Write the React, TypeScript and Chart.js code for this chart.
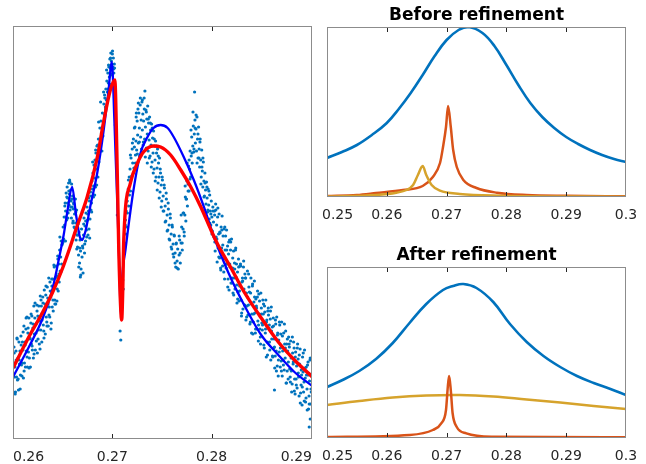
import { useEffect, useRef } from "react";
import { Chart, registerables } from "chart.js";
Chart.register(...registerables);

// ---------- Left panel: measured spectrum (x, intensity) ----------
const scatterLeftWing: [number, number][] = [
  [0.26000,77],[0.26005,47],[0.26010,92],[0.26015,62],[0.26020,72],[0.26025,47],[0.26030,88],[0.26035,62],
  [0.26040,101],[0.26045,59],[0.26050,81],[0.26055,49],[0.26060,97],[0.26065,75],[0.26070,88],[0.26075,64],
  [0.26080,103],[0.26085,74],[0.26090,63],[0.26095,97],[0.26100,89],[0.26105,61],[0.26110,113],[0.26115,76],
  [0.26120,97],[0.26125,72],[0.26130,110],[0.26135,88],[0.26140,122],[0.26145,72],[0.26150,106],[0.26155,87],
  [0.26160,121],[0.26165,81],[0.26170,101],[0.26175,72],[0.26180,116],[0.26185,95],[0.26190,123],[0.26195,89],
  [0.26200,111],[0.26205,81],[0.26210,133],[0.26215,105],[0.26220,121],[0.26225,89],[0.26230,115],[0.26235,98],
  [0.26240,134],[0.26245,86],[0.26250,123],[0.26255,109],[0.26260,133],[0.26265,95],[0.26270,118],[0.26275,143],
  [0.26280,109],[0.26285,133],[0.26290,97],[0.26295,126],[0.26300,142],[0.26305,114],[0.26310,108],[0.26315,149],
  [0.26320,129],[0.26325,105],[0.26330,144],[0.26335,122],[0.26340,117],[0.26345,152],[0.26350,141],[0.26355,113],
  [0.26360,161],[0.26365,132],[0.26370,122],[0.26375,148],[0.26380,142],[0.26385,116],[0.26390,160],[0.26395,132],
  [0.26400,160],[0.26405,128],[0.26410,150],[0.26415,172],[0.26420,139],[0.26425,161],[0.26430,135],[0.26435,173],
  [0.26440,163],[0.26445,150],[0.26450,183],[0.26455,148],[0.26460,175],[0.26465,157],[0.26470,189],[0.26475,168],
  [0.26480,182],[0.26485,198],[0.26490,175],[0.26495,195],[0.26500,196],[0.26505,212],
  [0.26002,62],[0.26012,86],[0.26022,45],[0.26032,79],[0.26042,100],[0.26052,60],[0.26062,79],[0.26072,50],
  [0.26082,94],[0.26092,76],[0.26102,107],[0.26112,68],[0.26122,94],[0.26132,121],[0.26142,82],[0.26152,111],
  [0.26162,71],[0.26172,100],[0.26182,125],[0.26192,93],[0.26202,115],[0.26212,85],[0.26222,136],[0.26232,106],
  [0.26242,128],[0.26252,100],[0.26262,121],[0.26272,90],[0.26282,139],[0.26292,119],[0.26302,136],[0.26312,101],
  [0.26322,135],[0.26332,153],[0.26342,113],[0.26352,135],[0.26362,124],[0.26372,157],[0.26382,110],[0.26392,153],
  [0.26402,139],[0.26412,174],[0.26422,135],[0.26432,162],[0.26442,138],[0.26452,180],[0.26462,165],[0.26472,202],
  [0.26482,167],[0.26492,194],
];
const scatterSidePeak: [number, number][] = [
  [0.26510,200],[0.26515,222],[0.26520,214],[0.26525,236],[0.26528,198],[0.26530,228],[0.26535,246],
  [0.26540,219],[0.26545,252],[0.26548,236],[0.26550,241],[0.26555,226],[0.26560,256],[0.26565,234],[0.26568,245],
  [0.26570,259],[0.26575,229],[0.26580,249],[0.26585,238],[0.26588,221],[0.26590,255],[0.26595,232],
  [0.26600,243],[0.26605,218],[0.26608,230],[0.26610,236],[0.26615,212],[0.26620,225],[0.26625,206],[0.26628,240],
  [0.26630,216],[0.26635,199],[0.26640,229],[0.26645,204],[0.26650,192],[0.26655,215],[0.26660,184],[0.26665,207],
  [0.26670,176],[0.26675,199],[0.26678,162],[0.26680,188],[0.26685,170],[0.26690,210],[0.26695,182],[0.26698,228],
  [0.26700,193],[0.26705,166],[0.26710,204],[0.26715,221],[0.26720,186],[0.26725,213],[0.26730,198],[0.26735,226],
  [0.26740,209],[0.26745,232],[0.26750,219],[0.26755,204],
  [0.26512,198],[0.26522,233],[0.26532,222],[0.26542,242],[0.26552,221],[0.26562,248],[0.26572,257],[0.26582,232],
  [0.26592,240],[0.26602,216],[0.26612,235],[0.26622,211],[0.26632,227],[0.26642,190],[0.26652,204],[0.26662,172],
  [0.26672,191],[0.26682,164],[0.26692,200],[0.26702,191],[0.26712,215],[0.26722,195],[0.26732,218],[0.26742,202],
  [0.26752,225],
];
const scatterMainPeak: [number, number][] = [
  [0.26760,228],[0.26765,210],[0.26770,238],[0.26775,220],[0.26780,247],[0.26785,229],[0.26790,236],[0.26795,258],
  [0.26800,250],[0.26805,266],[0.26810,242],[0.26815,274],[0.26820,261],[0.26825,279],[0.26830,252],[0.26835,286],
  [0.26840,270],[0.26845,293],[0.26850,281],[0.26855,262],[0.26860,300],[0.26865,277],[0.26870,289],[0.26875,311],
  [0.26880,297],[0.26885,318],[0.26890,306],[0.26895,288],[0.26900,326],[0.26905,303],[0.26910,314],[0.26915,335],
  [0.26920,324],[0.26925,341],[0.26930,332],[0.26935,350],[0.26940,339],[0.26945,358],[0.26950,347],[0.26955,366],
  [0.26960,356],[0.26965,372],[0.26970,362],[0.26975,380],[0.26980,371],[0.26985,386],[0.26990,378],[0.26995,364],
  [0.27000,385],[0.27005,372],[0.27010,381],[0.27015,366],[0.27020,375],[0.27025,352],
  [0.26762,241],[0.26772,201],[0.26782,243],[0.26792,227],[0.26802,277],[0.26812,253],[0.26822,244],[0.26832,289],
  [0.26842,254],[0.26852,294],[0.26862,317],[0.26872,289],[0.26882,337],[0.26892,311],[0.26902,303],[0.26912,347],
  [0.26922,344],[0.26932,330],[0.26942,369],[0.26952,350],[0.26962,374],[0.26972,355],[0.26982,381],[0.26992,365],
  [0.27002,388],[0.27012,370],[0.27022,371],
  [0.27030,314],[0.27050,224],[0.27078,108],[0.27085,99],[0.27095,132],[0.27100,145],[0.27105,159],[0.27110,150],
];
const scatterMiddleHump: [number, number][] = [
  [0.27125,196],[0.27130,214],[0.27135,205],[0.27140,228],[0.27145,212],[0.27150,238],
  [0.27160,250],[0.27165,233],[0.27170,262],[0.27178,270],[0.27183,248],[0.27188,281],
  [0.27195,263],[0.27200,290],[0.27205,276],[0.27212,300],[0.27217,271],[0.27222,292],
  [0.27228,312],[0.27233,284],[0.27238,298],[0.27240,322],[0.27245,289],[0.27250,318],[0.27255,304],[0.27258,330],
  [0.27262,296],[0.27267,326],[0.27272,311],[0.27275,283],[0.27280,334],[0.27285,302],[0.27290,319],[0.27293,290],
  [0.27298,337],[0.27302,309],[0.27307,325],[0.27310,294],[0.27315,318],[0.27320,341],[0.27325,300],[0.27328,348],
  [0.27333,312],[0.27338,329],[0.27342,291],[0.27347,320],[0.27352,305],[0.27356,333],[0.27360,288],[0.27365,316],
  [0.27370,299],[0.27375,322],[0.27380,283],[0.27385,309],[0.27390,294],[0.27395,315],[0.27400,277],[0.27405,301],
  [0.27410,286],[0.27415,308],[0.27420,270],[0.27425,293],[0.27430,279],[0.27435,298],[0.27440,262],[0.27445,286],
  [0.27450,271],[0.27455,290],[0.27460,256],[0.27465,276],[0.27470,262],[0.27475,281],[0.27480,247],[0.27485,266],
  [0.27492,254],[0.27498,238],[0.27504,259],[0.27512,243],[0.27518,228],[0.27524,251],
  [0.27532,233],[0.27538,218],[0.27544,240],[0.27552,224],[0.27558,209],[0.27564,230],
  [0.27572,214],[0.27578,199],[0.27584,221],[0.27592,205],[0.27598,190],[0.27604,212],
  [0.27612,195],[0.27618,182],[0.27624,203],[0.27632,186],[0.27638,172],[0.27644,196],
  [0.27652,178],[0.27658,190],[0.27664,170],
  [0.27122,212],[0.27132,219],[0.27142,238],[0.27152,226],[0.27162,259],[0.27172,244],[0.27182,284],[0.27192,261],
  [0.27202,296],[0.27212,266],[0.27222,311],[0.27232,276],[0.27242,326],[0.27252,285],[0.27262,336],[0.27272,297],
  [0.27282,341],[0.27292,284],[0.27302,339],[0.27312,297],[0.27322,330],[0.27332,282],[0.27342,327],[0.27352,276],
  [0.27362,320],[0.27372,281],[0.27382,316],[0.27392,272],[0.27402,311],[0.27412,266],[0.27422,300],[0.27432,258],
  [0.27442,293],[0.27452,249],[0.27462,283],[0.27472,241],[0.27482,270],[0.27492,232],[0.27502,262],[0.27512,228],
  [0.27522,254],[0.27532,217],[0.27542,246],[0.27552,208],[0.27562,236],[0.27572,200],[0.27582,225],[0.27592,192],
  [0.27602,214],[0.27612,185],[0.27622,204],[0.27632,176],[0.27642,195],[0.27652,171],
];
const scatterRightPeak: [number, number][] = [
  [0.27672,184],[0.27678,199],[0.27684,176],[0.27692,196],[0.27698,212],[0.27704,189],
  [0.27712,210],[0.27718,226],[0.27724,203],[0.27730,224],[0.27735,242],[0.27740,218],
  [0.27746,240],[0.27751,258],[0.27756,233],[0.27762,255],[0.27767,273],[0.27772,248],
  [0.27778,270],[0.27783,288],[0.27788,262],[0.27794,283],[0.27799,302],[0.27804,276],
  [0.27810,293],[0.27815,313],[0.27820,287],[0.27825,305],[0.27828,347],[0.27832,319],[0.27836,296],
  [0.27842,310],[0.27847,288],[0.27852,322],[0.27858,300],[0.27863,281],[0.27868,312],
  [0.27874,290],[0.27879,272],[0.27884,300],[0.27890,279],[0.27895,262],[0.27900,289],
  [0.27906,268],[0.27911,252],[0.27916,277],[0.27922,258],[0.27927,243],[0.27932,266],
  [0.27938,249],[0.27943,235],[0.27948,257],[0.27954,241],[0.27959,227],[0.27964,250],
  [0.27970,234],[0.27975,220],[0.27980,244],[0.27986,228],[0.27991,214],[0.27996,238],
  [0.28002,222],[0.28007,208],[0.28012,232],[0.28018,217],[0.28023,202],[0.28028,228],
  [0.27673,203],[0.27683,186],[0.27693,224],[0.27703,196],[0.27713,226],[0.27723,207],[0.27733,253],[0.27743,240],
  [0.27753,276],[0.27763,248],[0.27773,279],[0.27782,260],[0.27792,309],[0.27802,286],[0.27812,327],[0.27822,290],
  [0.27833,311],[0.27843,324],[0.27853,276],[0.27862,305],[0.27872,281],[0.27882,297],[0.27892,255],[0.27902,272],
  [0.27912,281],[0.27923,242],[0.27933,256],[0.27942,226],[0.27952,252],[0.27962,229],[0.27972,248],[0.27982,216],
  [0.27992,225],[0.28003,205],[0.28013,228],
];
const scatterRightWing: [number, number][] = [
  [0.28030,224],[0.28035,188],[0.28040,235],[0.28045,202],[0.28050,214],[0.28055,177],[0.28060,222],[0.28065,191],
  [0.28070,205],[0.28075,225],[0.28080,181],[0.28085,206],[0.28090,171],[0.28095,212],[0.28100,191],[0.28105,223],
  [0.28110,173],[0.28115,203],[0.28120,180],[0.28125,210],[0.28130,160],[0.28135,189],[0.28140,203],[0.28145,171],
  [0.28150,209],[0.28155,175],[0.28160,193],[0.28165,160],[0.28170,185],[0.28175,149],[0.28180,199],[0.28185,172],
  [0.28190,189],[0.28195,156],[0.28200,200],[0.28205,161],[0.28210,171],[0.28215,146],[0.28220,188],[0.28225,161],
  [0.28230,176],[0.28235,150],[0.28240,189],[0.28245,162],[0.28250,175],[0.28255,136],[0.28260,167],[0.28265,147],
  [0.28270,180],[0.28275,138],[0.28280,148],[0.28285,173],[0.28290,175],[0.28295,139],[0.28300,123],[0.28305,157],
  [0.28310,161],[0.28315,130],[0.28320,172],[0.28325,150],[0.28330,134],[0.28335,165],[0.28340,161],[0.28345,119],
  [0.28350,146],[0.28355,133],[0.28360,168],[0.28365,124],[0.28370,134],[0.28375,152],[0.28380,147],[0.28385,115],
  [0.28390,117],[0.28395,161],[0.28400,135],[0.28405,125],[0.28410,153],[0.28415,105],[0.28420,117],[0.28425,137],
  [0.28430,158],[0.28435,126],[0.28440,106],[0.28445,140],[0.28450,133],[0.28455,110],[0.28460,142],[0.28465,118],
  [0.28470,98],[0.28475,145],[0.28480,125],[0.28485,110],[0.28490,102],[0.28495,146],[0.28500,131],[0.28505,116],
  [0.28510,109],[0.28515,139],[0.28520,125],[0.28525,94],[0.28530,91],[0.28535,127],[0.28540,106],[0.28545,139],
  [0.28550,82],[0.28555,119],[0.28560,97],[0.28565,128],[0.28570,131],[0.28575,111],[0.28580,114],[0.28585,89],
  [0.28590,120],[0.28595,79],[0.28600,132],[0.28605,100],[0.28610,112],[0.28615,82],[0.28620,121],[0.28625,91],
  [0.28630,100],[0.28632,49],[0.28635,71],[0.28640,83],[0.28645,115],[0.28650,88],[0.28655,122],[0.28660,73],
  [0.28665,106],[0.28670,63],[0.28675,99],[0.28680,87],[0.28685,114],[0.28690,72],[0.28695,105],[0.28700,78],
  [0.28705,117],[0.28710,63],[0.28715,88],[0.28720,79],[0.28725,106],[0.28730,69],[0.28735,95],[0.28740,81],
  [0.28745,108],[0.28750,56],[0.28755,95],[0.28760,68],[0.28765,88],[0.28770,60],[0.28775,102],[0.28780,95],
  [0.28785,70],[0.28790,62],[0.28795,98],[0.28800,81],[0.28805,47],[0.28810,55],[0.28815,86],[0.28820,75],
  [0.28825,97],[0.28830,91],[0.28835,60],[0.28840,45],[0.28845,87],[0.28850,60],[0.28855,73],[0.28860,51],
  [0.28865,95],[0.28870,80],[0.28875,62],[0.28880,43],[0.28885,75],[0.28890,90],[0.28895,46],[0.28900,54],
  [0.28905,64],[0.28910,34],[0.28915,82],[0.28920,67],[0.28925,47],[0.28930,57],[0.28935,89],[0.28940,71],
  [0.28945,37],[0.28950,41],[0.28955,64],[0.28960,50],[0.28965,74],[0.28970,77],[0.28975,30],[0.28980,43],
  [0.28982,12],[0.28985,58],[0.28990,79],[0.28992,20],[0.28995,35],[0.29000,50],[0.29005,65],
  [0.28032,197],[0.28042,229],[0.28052,200],[0.28062,231],[0.28072,182],[0.28082,207],[0.28092,169],[0.28102,209],
  [0.28112,194],[0.28122,167],[0.28132,212],[0.28142,175],[0.28152,189],[0.28162,152],[0.28172,197],[0.28182,175],
  [0.28192,197],[0.28202,156],[0.28212,181],[0.28222,144],[0.28232,170],[0.28242,191],[0.28252,154],[0.28262,140],
  [0.28272,172],[0.28282,153],[0.28292,173],[0.28302,126],[0.28312,158],[0.28322,178],[0.28332,134],[0.28342,161],
  [0.28352,122],[0.28362,142],[0.28372,165],[0.28382,124],[0.28392,146],[0.28402,106],[0.28412,155],[0.28422,125],
  [0.28432,142],[0.28442,110],[0.28452,131],[0.28462,148],[0.28472,114],[0.28482,138],[0.28492,95],[0.28502,125],
  [0.28512,114],[0.28522,135],[0.28532,133],[0.28542,110],[0.28552,117],[0.28562,84],[0.28572,124],[0.28582,97],
  [0.28592,128],[0.28602,108],[0.28612,83],[0.28622,113],[0.28632,92],[0.28642,119],[0.28652,68],[0.28662,104],
  [0.28672,79],[0.28682,117],[0.28692,91],[0.28702,68],[0.28712,103],[0.28722,74],[0.28732,115],[0.28742,91],
  [0.28752,56],[0.28762,100],[0.28772,77],[0.28782,92],[0.28792,57],[0.28802,68],[0.28812,102],[0.28822,77],
  [0.28832,48],[0.28842,82],[0.28852,54],[0.28862,91],[0.28872,66],[0.28882,84],[0.28892,36],[0.28902,69],
  [0.28912,52],[0.28922,86],[0.28932,38],[0.28942,61],[0.28952,72],[0.28962,29],[0.28972,64],[0.28982,35],
  [0.28992,81],[0.29002,47],
];

// Fitted curves (left panel)
const blueFitX = [0.26000,0.26170,0.26300,0.26400,0.26470,0.26510,0.26550,0.26595,0.26635,0.26676,0.26696,0.26730,0.26777,0.26848,0.26909,0.26959,0.26995,0.27020,0.27050,0.27070,0.27086,0.27098,0.27132,0.27152,0.27213,0.27284,0.27354,0.27415,0.27486,0.27557,0.27618,0.27719,0.27820,0.27922,0.28023,0.28165,0.28327,0.28499,0.28671,0.28833,0.29025];
const blueFitY = [62,94,121,151,184,204,229,252,224,201,199,208,232,266,306,346,377,320,235,175,125,159,189,205,249,286,302,311,314,311,302,282,259,232,202,167,134,104,84,67,52];
const redFitX = [0.26000,0.26170,0.26300,0.26400,0.26500,0.26575,0.26635,0.26747,0.26849,0.26910,0.26980,0.27025,0.27045,0.27065,0.27085,0.27094,0.27105,0.27115,0.27182,0.27253,0.27314,0.27415,0.27486,0.27587,0.27689,0.27790,0.27891,0.27993,0.28064,0.28195,0.28327,0.28499,0.28671,0.28833,0.29025];
const redFitY = [71,104,127,147,171,192,210,242,282,316,349,359,289,189,129,119,149,199,256,276,287,293,292,284,269,252,232,209,194,171,147,121,97,79,61];

// ---------- Right panels: peak components ----------
const rightTicks = [0.25, 0.26, 0.27, 0.28, 0.29, 0.3];
const rightTickLabels = ["0.25", "0.26", "0.27", "0.28", "0.29", "0.3"];
const leftTicks = [0.26, 0.27, 0.28, 0.29];
const leftTickLabels = ["0.26", "0.27", "0.28", "0.29"];

const beforeBroadX = [0.250,0.2525,0.255,0.2575,0.260,0.262,0.264,0.266,0.268,0.270,0.272,0.2737,0.276,0.278,0.280,0.282,0.284,0.286,0.288,0.290,0.292,0.294,0.296,0.298,0.300];
const beforeBroadY = [39,45,52,62,74,88,104,122,141,157,167,170,164,151,132,112,94,80,69,60,53,47,42,38,35];
const beforeSharpX = [0.250,0.255,0.2582,0.2627,0.2660,0.2677,0.2689,0.2694,0.2699,0.27025,0.2707,0.2711,0.2717,0.2728,0.2750,0.2784,0.2834,0.290,0.300];
const beforeSharpY = [1,2,4,7,11,20,34,50,70,91,70,47,30,17,9,4.3,2,1.2,0.7];
const beforeSideX = [0.250,0.2582,0.2616,0.2633,0.2644,0.2652,0.2660,0.2666,0.2675,0.2689,0.2722,0.2789,0.300];
const beforeSideY = [0.5,2,4.3,7,12,22,31,22,12,6.3,3,1.3,0.3];

const afterBroadX = [0.250,0.2526,0.2554,0.2582,0.2610,0.2638,0.2666,0.2694,0.2711,0.2728,0.2750,0.2778,0.2806,0.2834,0.2862,0.2890,0.2918,0.2946,0.2974,0.300];
const afterBroadY = [51,58,67,79,95,115,134,148,152,154,150,136,114,96,82,71,62,55,49,43];
const afterSharpX = [0.250,0.2638,0.2677,0.2691,0.2699,0.2702,0.27042,0.2707,0.2710,0.2717,0.2733,0.2778,0.300];
const afterSharpY = [1,3,8,14.7,28,51,62,48,25,11,4.7,1.3,0.7];
const afterWideX = [0.250,0.2554,0.2610,0.2666,0.2722,0.2778,0.2834,0.2890,0.2946,0.300];
const afterWideY = [33,37,40.5,42.5,43,41.5,38.5,35.5,32,29];

const C_BLUE = "#0072BD";
const C_ORANGE = "#D95319";
const C_YELLOW = "#D6A32C";

type Align = "left" | "center" | "right";
interface PanelSpec {
  left: number; top: number; width: number; height: number;
  padding: { left: number; right: number; top: number; bottom: number };
  xMin: number; xMax: number; yMin: number; yMax: number;
  ticks: number[]; tickLabels: string[]; labelAlign: Align[]; labelShift: number[];
  title?: string;
  datasets: any[];
}

const pts = (xs: number[], ys: number[]) => xs.map((x, i) => ({ x, y: ys[i] }));
const line = (xs: number[], ys: number[], color: string, width: number, smooth: boolean) => ({
  data: pts(xs, ys), showLine: true, borderColor: color, borderWidth: width,
  pointRadius: 0, fill: false, clip: 0,
  ...(smooth ? { tension: 0.4, cubicInterpolationMode: "default" } : { cubicInterpolationMode: "monotone" }),
});

const allScatter = [
  ...scatterLeftWing, ...scatterSidePeak, ...scatterMainPeak,
  ...scatterMiddleHump, ...scatterRightPeak, ...scatterRightWing,
];

const panels: PanelSpec[] = [
  {
    left: 0, top: 0, width: 320, height: 464,
    padding: { left: 13, right: 8, top: 26, bottom: 25 },
    xMin: 0.26, xMax: 0.2901, yMin: 0, yMax: 413,
    ticks: leftTicks, tickLabels: leftTickLabels,
    labelAlign: ["left", "center", "center", "right"], labelShift: [0, 0, 0, 0],
    datasets: [
      line(redFitX, redFitY, "#FF0000", 3.4, false),
      line(blueFitX, blueFitY, "#0000FF", 2.3, false),
      {
        data: allScatter.map(([x, y]) => ({ x, y })), showLine: false,
        pointRadius: 1.6, pointBorderWidth: 0, pointBackgroundColor: C_BLUE,
        borderColor: C_BLUE, clip: 0,
      },
    ],
  },
  {
    left: 320, top: 0, width: 326, height: 230,
    padding: { left: 7, right: 20, top: 27, bottom: 33 },
    xMin: 0.25, xMax: 0.3, yMin: 0, yMax: 170,
    ticks: rightTicks, tickLabels: rightTickLabels,
    labelAlign: ["left", "center", "center", "center", "center", "center"], labelShift: [-5, 0, 0, 0, 0, 0],
    title: "Before refinement",
    datasets: [
      line(beforeSideX, beforeSideY, C_YELLOW, 2.5, false),
      line(beforeSharpX, beforeSharpY, C_ORANGE, 2.5, false),
      line(beforeBroadX, beforeBroadY, C_BLUE, 2.6, true),
    ],
  },
  {
    left: 320, top: 230, width: 326, height: 234,
    padding: { left: 7, right: 20, top: 37, bottom: 26 },
    xMin: 0.25, xMax: 0.3, yMin: 0, yMax: 171,
    ticks: rightTicks, tickLabels: rightTickLabels,
    labelAlign: ["left", "center", "center", "center", "center", "center"], labelShift: [-5, 0, 0, 0, 0, 0],
    title: "After refinement",
    datasets: [
      line(afterSharpX, afterSharpY, C_ORANGE, 2.5, false),
      line(afterWideX, afterWideY, C_YELLOW, 2.5, true),
      line(afterBroadX, afterBroadY, C_BLUE, 2.6, true),
    ],
  },
];

function axesPlugin(spec: PanelSpec) {
  return {
    id: "matlabAxes",
    afterDatasetsDraw(chart: any) {
      const { ctx, chartArea: a, scales } = chart;
      const xs = scales.x;
      ctx.save();
      ctx.lineWidth = 1;
      ctx.strokeStyle = "#8c8c8c";
      ctx.strokeRect(a.left + 0.5, a.top + 0.5, a.right - a.left - 1, a.bottom - a.top - 1);
      ctx.strokeStyle = "#262626";
      spec.ticks.forEach((t) => {
        const p = Math.round(xs.getPixelForValue(t)) + 0.5;
        if (p < a.left + 2 || p > a.right - 2) return;
        ctx.beginPath();
        ctx.moveTo(p, a.bottom - 1);
        ctx.lineTo(p, a.bottom - 5);
        ctx.moveTo(p, a.top + 1);
        ctx.lineTo(p, a.top + 5);
        ctx.stroke();
      });
      ctx.fillStyle = "#262626";
      ctx.font = '14px "DejaVu Sans"';
      ctx.textBaseline = "alphabetic";
      spec.ticks.forEach((t, i) => {
        const align = spec.labelAlign[i];
        let p = xs.getPixelForValue(t);
        if (align === "left" && spec.labelShift[i] === 0) p = a.left;
        if (align === "right") p = a.right;
        ctx.textAlign = align;
        ctx.fillText(spec.tickLabels[i], p + spec.labelShift[i], a.bottom + 22);
      });
      if (spec.title) {
        ctx.fillStyle = "#000000";
        ctx.font = 'bold 17px "DejaVu Sans"';
        ctx.textAlign = "center";
        ctx.fillText(spec.title, (a.left + a.right) / 2, a.top - 7);
      }
      ctx.restore();
    },
  };
}

function Panel({ spec }: { spec: PanelSpec }) {
  const ref = useRef<HTMLCanvasElement | null>(null);
  useEffect(() => {
    if (!ref.current) return;
    const chart = new Chart(ref.current, {
      type: "scatter",
      data: { datasets: spec.datasets },
      options: {
        animation: false,
        responsive: false,
        maintainAspectRatio: false,
        devicePixelRatio: 1,
        events: [],
        layout: { padding: spec.padding },
        scales: {
          x: { type: "linear", min: spec.xMin, max: spec.xMax, display: false },
          y: { type: "linear", min: spec.yMin, max: spec.yMax, display: false },
        },
        plugins: { legend: { display: false }, tooltip: { enabled: false }, title: { display: false } },
      } as any,
      plugins: [axesPlugin(spec)],
    });
    return () => chart.destroy();
  }, [spec]);
  return (
    <canvas
      ref={ref}
      width={spec.width}
      height={spec.height}
      style={{ position: "absolute", left: spec.left, top: spec.top, width: spec.width, height: spec.height }}
    />
  );
}

export default function App() {
  return (
    <div style={{ position: "fixed", left: 0, top: 0, width: 646, height: 464, background: "#ffffff", overflow: "hidden" }}>
      {panels.map((p, i) => (
        <Panel key={i} spec={p} />
      ))}
    </div>
  );
}
